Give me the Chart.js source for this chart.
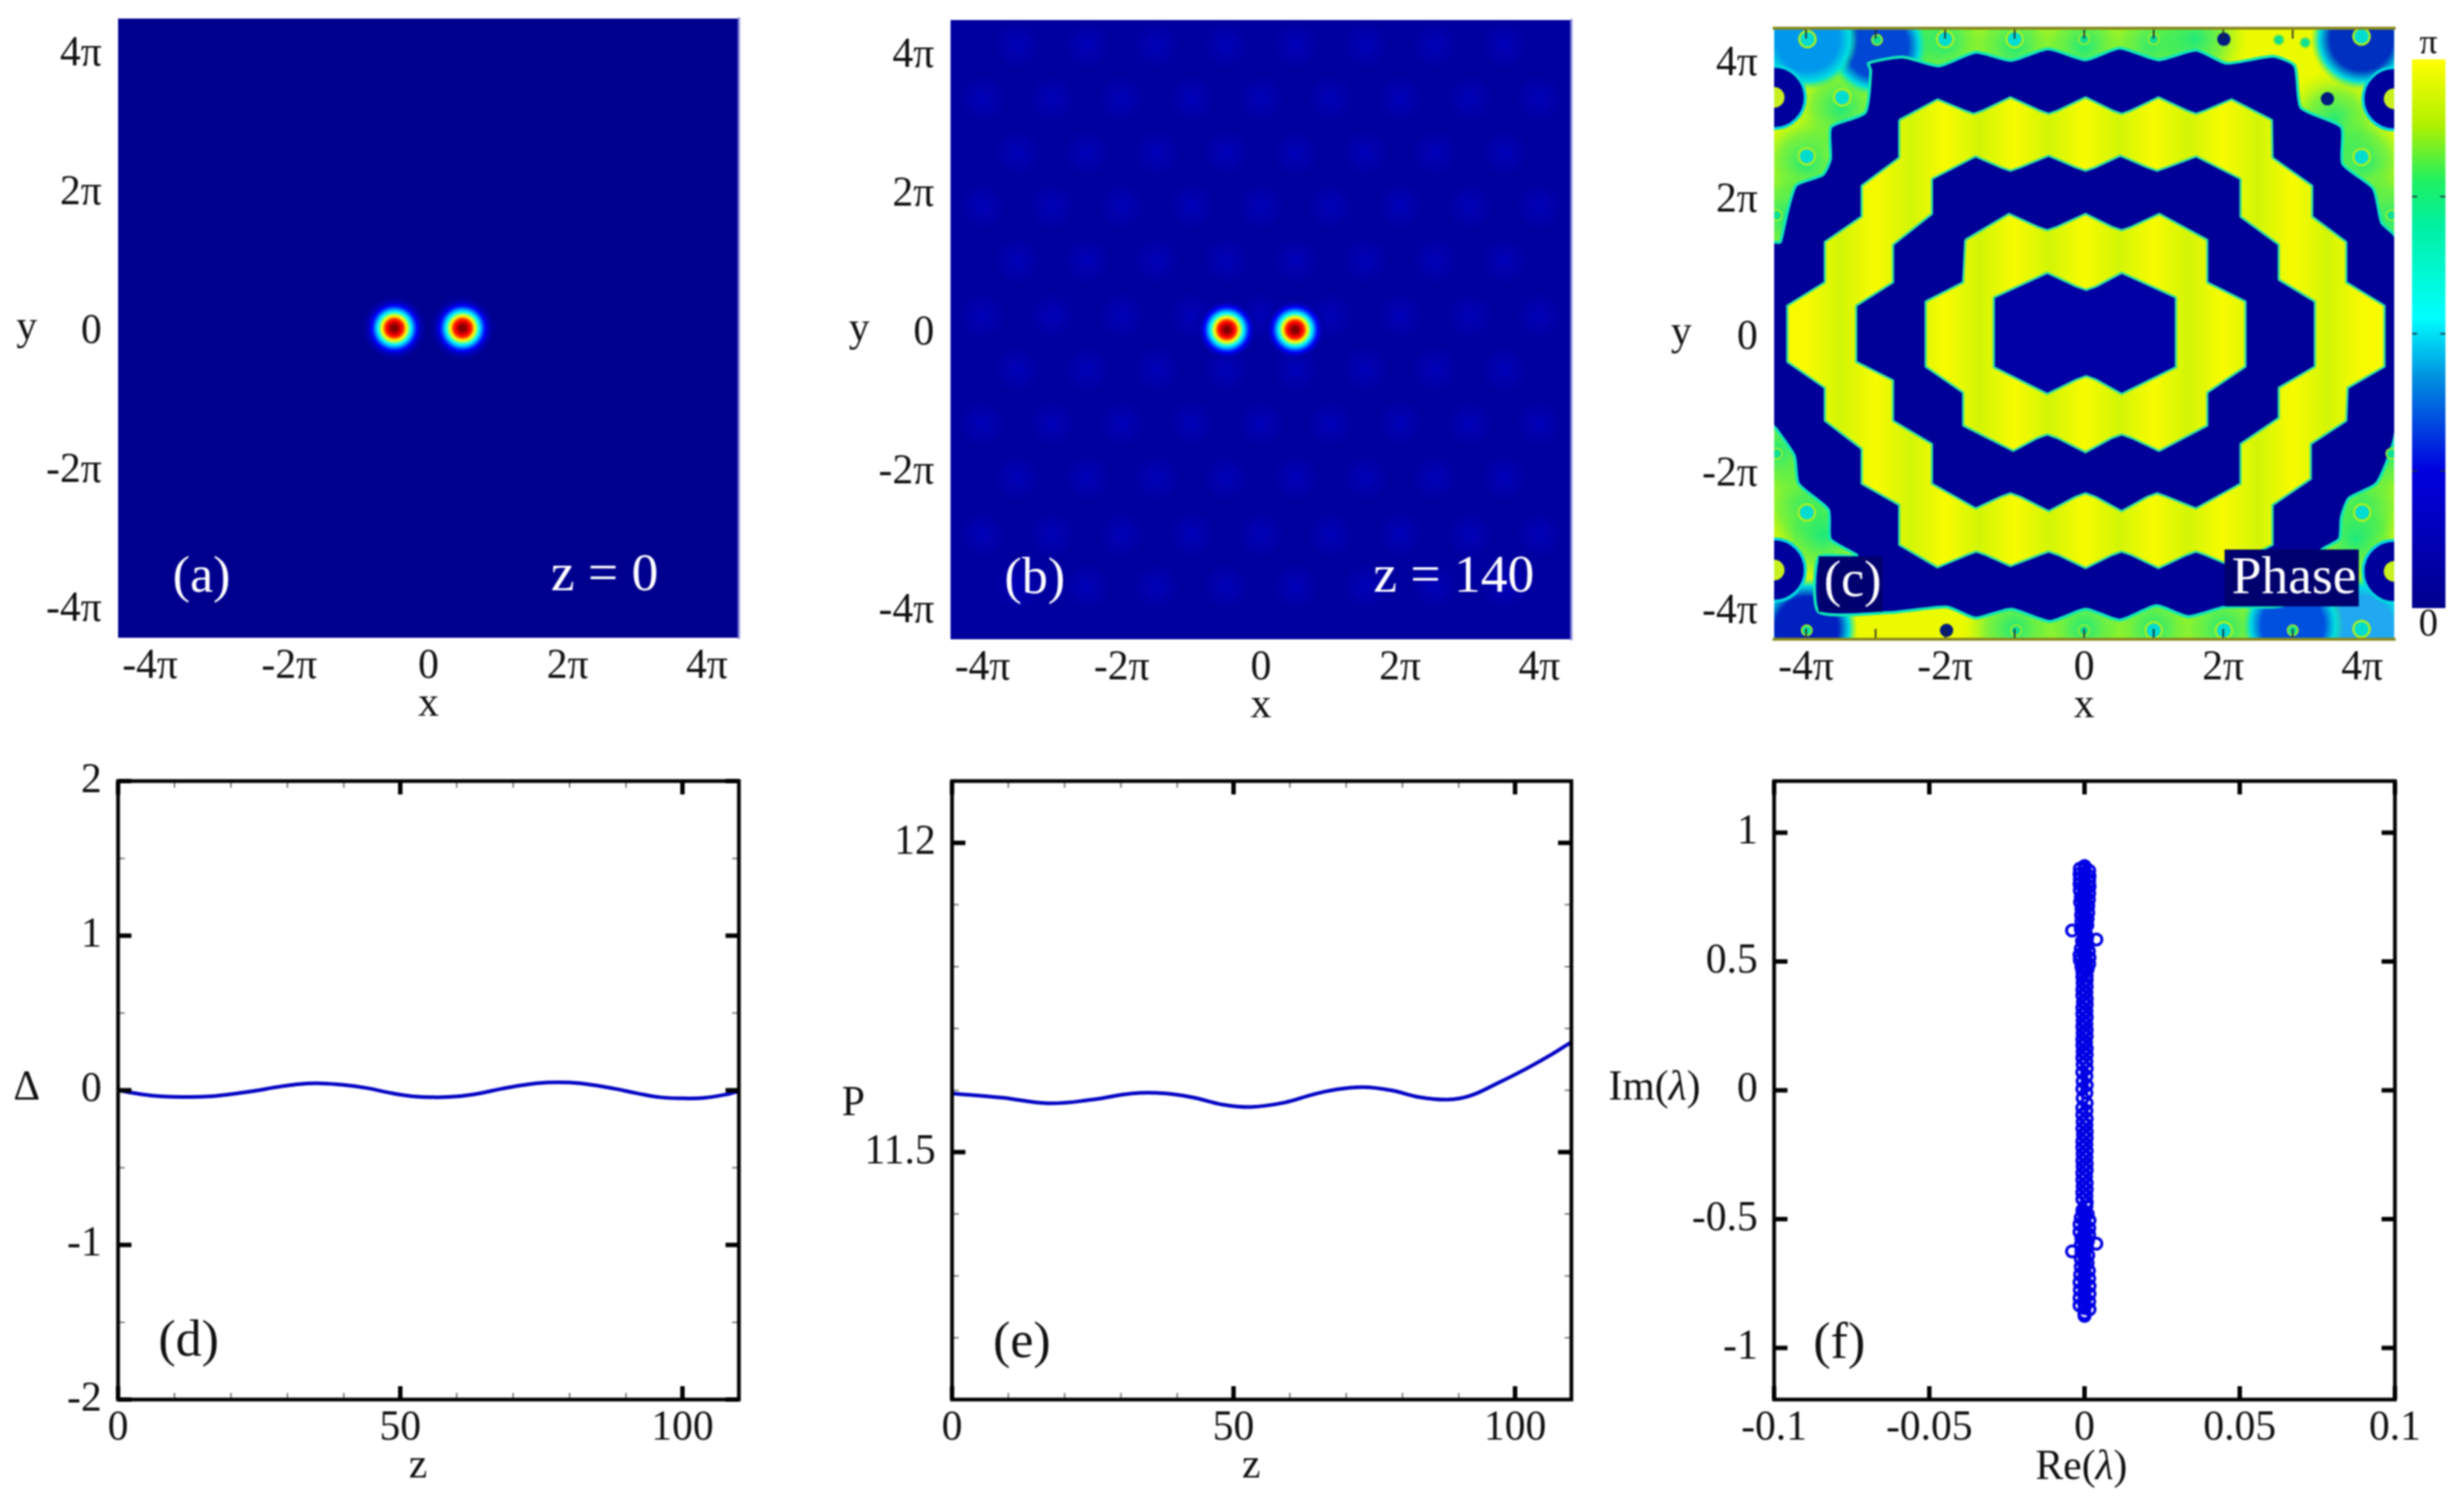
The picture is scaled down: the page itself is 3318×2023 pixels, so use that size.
<!DOCTYPE html>
<html>
<head>
<meta charset="utf-8">
<title>Dipole soliton panels</title>
<script src="https://cdn.jsdelivr.net/npm/chart.js@4"></script>
<style>
  html, body { margin: 0; padding: 0; background: #fff; }
  #page { position: relative; width: 3318px; height: 2023px; overflow: hidden; }
  #page canvas { position: absolute; filter: blur(1.2px); }
</style>
</head>
<body>
<div id="page"></div>
<script>
// axis ticks
var piTicks = [-4, -2, 0, 2, 4];
var zTicks = [0, 50, 100];
var zMinor = [10, 20, 30, 40, 60, 70, 80, 90, 110];
var deltaTicks = [-2, -1, 0, 1, 2];
var deltaMinor = [-1.5, -0.5, 0.5, 1.5];
var powerTicks = [11.5, 12];
var powerMinor = [11.2, 11.3, 11.4, 11.6, 11.7, 11.8, 11.9];
var reTicks = [-0.1, -0.05, 0, 0.05, 0.1];
var imTicks = [-1, -0.5, 0, 0.5, 1];
var phaseMinor = [-4, -3, -2, -1, 0, 1, 2, 3];

// (a), (b) amplitude: two lobes, radial profile (units of pi)
var lobeX = [-0.49, 0.49];
var lobeRadius = [0.492, 0.46, 0.428, 0.396, 0.374, 0.353, 0.337, 0.321, 0.305, 0.289, 0.273, 0.257, 0.241, 0.225, 0.214, 0.203, 0.193, 0.182, 0.171, 0.16, 0.15, 0.139, 0.128, 0.112, 0.096, 0.08, 0.064, 0.043];
var lobeLevel = [0.01, 0.02, 0.035, 0.05, 0.07, 0.09, 0.125, 0.16, 0.2, 0.25, 0.3, 0.34, 0.39, 0.45, 0.5, 0.54, 0.58, 0.625, 0.67, 0.72, 0.76, 0.81, 0.85, 0.88, 0.91, 0.94, 0.97, 1];

// (b) faint lattice spots
var latticeRowsEven = [-2.95, -1.35, 0.2, 1.78, 3.33];
var latticeRowsOdd = [-3.7, -2.13, -0.57, 1, 2.55, 4.1];
var latticeEvenX = [-4, -3, -2, -1, 0, 1, 2, 3, 4];
var latticeOddX = [-3.5, -2.5, -1.5, -0.5, 0.5, 1.5, 2.5, 3.5];

// (c) phase: boundaries of the bands
var outerDarkX = [-4.37, -4.15, -3.76, -3.65, -3.64, -3.15, -3.07, -3.1, -2.61, -2.09, -1.56, -1.05, -0.52, 0.02, 0.51, 1.07, 1.61, 2.05, 2.72, 3.03, 3.12, 3.7, 3.72, 4.16, 4.28, 4.48, 4.48, 4.21, 3.81, 3.7, 3.67, 3.41, 2.9, 2.02, 1.5, 1.04, 0.51, 0.02, -0.49, -1.05, -1.56, -1.97, -2.78, -3.82, -3.82, -3.27, -3.65, -3.68, -4.11, -4.17, -4.43, -4.48, -4.48];
var outerDarkY = [1.33, 2.16, 2.32, 2.55, 3.02, 3.23, 3.84, 3.95, 4.04, 3.91, 4.11, 3.99, 4.16, 4, 4.17, 4, 4.14, 3.95, 4.05, 3.91, 3.3, 3.02, 2.48, 2.12, 1.62, 1.41, -1.43, -2.18, -2.4, -2.68, -3, -3.16, -3.95, -3.99, -4.13, -3.97, -4.18, -4.02, -4.2, -4.02, -4.15, -3.99, -4.07, -4.06, -3.26, -3.24, -3, -2.57, -2.19, -1.78, -1.39, -1.33, 1.33];
var ringOuterX = [-2.66, -2.11, -1.73, -1.59, -1.45, -1.06, -0.65, -0.51, -0.37, 0.02, 0.4, 0.54, 0.68, 1.07, 1.47, 1.61, 1.75, 2.12, 2.7, 2.71, 3.28, 3.28, 3.77, 3.77, 4.32, 4.32, 3.79, 3.77, 3.26, 3.26, 2.71, 2.71, 2.12, 1.75, 1.61, 1.47, 1.07, 0.68, 0.54, 0.4, 0.02, -0.37, -0.51, -0.65, -1.06, -1.41, -1.55, -1.69, -2.11, -2.66, -2.66, -3.2, -3.2, -3.73, -3.73, -4.27, -4.27, -3.73, -3.73, -3.2, -3.2, -2.66];
var ringOuterY = [3.12, 3.42, 3.26, 3.21, 3.26, 3.45, 3.26, 3.21, 3.26, 3.45, 3.26, 3.21, 3.26, 3.45, 3.26, 3.21, 3.26, 3.42, 3.12, 2.57, 2.16, 1.71, 1.34, 0.75, 0.41, -0.48, -0.79, -1.27, -1.61, -2.12, -2.5, -3.08, -3.39, -3.23, -3.18, -3.23, -3.42, -3.23, -3.18, -3.23, -3.42, -3.23, -3.18, -3.23, -3.39, -3.23, -3.18, -3.23, -3.41, -3.08, -2.5, -2.19, -1.68, -1.27, -0.79, -0.41, 0.41, 0.75, 1.34, 1.71, 2.16, 2.57];
var midDarkX = [-2.19, -1.56, -1.2, -1.06, -0.92, -0.51, -0.12, 0.02, 0.16, 0.52, 0.91, 1.05, 1.19, 1.61, 2.25, 2.25, 2.8, 2.8, 3.32, 3.32, 2.8, 2.8, 2.25, 2.25, 1.61, 1.19, 1.05, 0.91, 0.54, 0.16, 0.02, -0.12, -0.51, -0.92, -1.06, -1.2, -1.56, -2.19, -2.19, -2.75, -2.75, -3.28, -3.28, -2.75, -2.75, -2.19];
var midDarkY = [2.26, 2.59, 2.43, 2.38, 2.43, 2.6, 2.43, 2.38, 2.43, 2.6, 2.43, 2.38, 2.43, 2.59, 2.26, 1.71, 1.3, 0.79, 0.47, -0.48, -0.79, -1.23, -1.61, -2.19, -2.55, -2.38, -2.33, -2.38, -2.59, -2.38, -2.33, -2.38, -2.59, -2.38, -2.33, -2.38, -2.55, -2.19, -1.61, -1.27, -0.68, -0.41, 0.41, 0.75, 1.3, 1.75];
var ringInnerX = [-1.71, -1.08, -0.67, -0.53, -0.39, 0.02, 0.4, 0.54, 0.68, 1.08, 1.77, 1.77, 2.32, 2.32, 1.77, 1.77, 1.08, 0.68, 0.54, 0.4, 0.02, -0.39, -0.53, -0.67, -1.02, -1.74, -1.74, -2.28, -2.28, -1.74];
var ringInnerY = [1.37, 1.75, 1.56, 1.51, 1.56, 1.75, 1.56, 1.51, 1.56, 1.75, 1.37, 0.75, 0.47, -0.48, -0.86, -1.34, -1.71, -1.52, -1.47, -1.52, -1.73, -1.52, -1.47, -1.52, -1.71, -1.34, -0.86, -0.48, 0.47, 0.75];
var coreX = [-1.3, -0.53, -0.11, 0.03, 0.17, 0.54, 1.32, 1.32, 0.54, 0.17, 0.03, -0.11, -0.53, -1.3];
var coreY = [0.53, 0.89, 0.69, 0.64, 0.69, 0.89, 0.53, -0.49, -0.88, -0.67, -0.62, -0.67, -0.88, -0.49];

// (c) phase: patches and small vortices in the outer region
var greenPatchX = [-2.6, -2, -1, 0, 1, 1.6, -3.5, -4, -4.3, -4, -3.75, -4.4, 3.6, 4, 4.4, 4, 4.4, 3.9, 1, 2, 0, -1, 3, 4];
var greenPatchY = [4.3, 4.25, 4.2, 4.2, 4.2, 4.3, 3.3, 2.5, 1.7, -2.5, -2.95, -1.7, 3.1, 2.5, 1.7, -2.5, -1.7, -3, -4.3, -4.3, -4.3, -4.3, -4.2, -4.1];
var haloX = [-3.98, -2.98, 3.99, -3.99, 3, 3.99];
var haloY = [4.3, 4.2, 4.3, -4.3, -4.25, -4.3];
var haloColor = ['#0098ec', '#0048d4', '#0030c0', '#0020c0', '#0050e0', '#20a8f0'];
var cornerDarkX = [-4.46, 4.46, -4.46, 4.46];
var cornerDarkY = [3.45, 3.43, -3.45, -3.47];
var cyanDotX = [-3.48, -3.99, 3.99, -3.99, 4, 1, 2.01, -2, -1, 3.99, -3.98, 3.99];
var cyanDotY = [3.45, 2.59, 2.58, -2.61, -2.61, -4.33, -4.33, 4.3, 4.3, 4.34, 4.3, -4.31];
var greenDotX = [0, 1, 2.8, 3.18, -2.98, -0.98, 0, 3, -3.99, -4.42, 4.42, -4.42, 4.42];
var greenDotY = [4.3, 4.3, 4.29, 4.25, 4.29, -4.33, -4.33, -4.33, -4.33, 1.73, 1.73, -1.75, -1.75];
var darkDotX = [2.01, 3.5, -1.98];
var darkDotY = [4.3, 3.43, -4.33];

// (d) separation vs z
var deltaZ = [0, 4, 8, 12, 16, 20, 24, 28, 32, 36, 40, 44, 48, 52, 56, 60, 64, 68, 72, 76, 80, 84, 88, 92, 96, 100, 104, 108, 110];
var deltaValues = [0, -0.025, -0.04, -0.043, -0.04, -0.025, -0.005, 0.02, 0.04, 0.045, 0.035, 0.015, -0.015, -0.038, -0.045, -0.04, -0.02, 0.01, 0.035, 0.05, 0.05, 0.035, 0.01, -0.02, -0.045, -0.052, -0.048, -0.025, -0.005];

// (e) power vs z
var powerZ = [0, 9, 17, 25, 32, 38, 43, 48, 53, 59, 64, 68, 73, 78, 83, 88, 92, 97, 102, 106.5, 110];
var powerValues = [11.595, 11.588, 11.579, 11.585, 11.595, 11.595, 11.588, 11.577, 11.573, 11.58, 11.593, 11.601, 11.605, 11.6, 11.589, 11.585, 11.591, 11.612, 11.635, 11.658, 11.678];

// (f) stability spectrum, upper end, middle, lower end and the core of the two dense ends
var topRe = [0, -0.0015, 0.0015, -0.0016, 0.0016, -0.0015, 0.0015, -0.0016, 0.0016, -0.0015, 0.0015, -0.0012, 0.0014, -0.0014, 0.0012, -0.001, 0.0012, -0.0011, 0.001, -0.001, 0.0009, -0.0012, 0.0004, -0.004, 0.0009, 0.0038, -0.0008, 0.001, -0.0012, 0.0014, -0.0016, 0.0016, -0.0015, 0.0015, -0.001, 0.001, -0.0007, 0.0007];
var topIm = [0.87, 0.86, 0.852, 0.84, 0.83, 0.82, 0.81, 0.8, 0.79, 0.775, 0.765, 0.75, 0.74, 0.73, 0.715, 0.705, 0.69, 0.68, 0.665, 0.655, 0.64, 0.625, 0.61, 0.62, 0.595, 0.585, 0.58, 0.565, 0.55, 0.54, 0.525, 0.515, 0.505, 0.49, 0.48, 0.47, 0.46, 0.445];
var midRe = [-0.0007, 0.0007, -0.0006, 0.0007, -0.0007, 0.0006, -0.0007, 0.0007, -0.0005, 0.0007, -0.0007, 0.0006, -0.0007, 0.0007, -0.0006, 0.0006, -0.0007, 0.0007, -0.0006, 0.0007, -0.0007, 0.0005, -0.0007, 0.0007, -0.0006, 0.0007, -0.0007, 0.0006, -0.0006, 0.0007, -0.0007, 0.0006, -0.0006, 0.0007, -0.0007, 0.0006, -0.0006, 0.0007, -0.0007, 0.0006, -0.0007, 0.0007, -0.0006, 0.0006, -0.0007, 0.0007, -0.0005, 0.0007, -0.0007, 0.0006, -0.0007, 0.0007, -0.0006, 0.0006, -0.0007, 0.0007, -0.0006, 0.0007, -0.0007, 0.0005, -0.0007, 0.0007, -0.0006, 0.0007, -0.0007, 0.0006, -0.0007, 0.0007];
var midIm = [0.44, 0.428, 0.416, 0.403, 0.391, 0.38, 0.368, 0.355, 0.343, 0.332, 0.32, 0.306, 0.295, 0.283, 0.27, 0.258, 0.247, 0.235, 0.222, 0.21, 0.198, 0.186, 0.175, 0.162, 0.15, 0.138, 0.126, 0.112, 0.1, 0.085, 0.07, 0.055, 0.035, 0.02, 0.005, -0.01, -0.03, -0.05, -0.068, -0.08, -0.095, -0.11, -0.122, -0.135, -0.148, -0.16, -0.172, -0.185, -0.197, -0.21, -0.222, -0.235, -0.247, -0.26, -0.272, -0.285, -0.297, -0.31, -0.322, -0.335, -0.347, -0.36, -0.372, -0.385, -0.397, -0.41, -0.422, -0.435];
var lowRe = [0.0006, -0.0007, 0.001, -0.0012, 0.0016, -0.0016, 0.0015, -0.0016, 0.0015, -0.001, 0.0011, -0.0012, 0.0008, 0.0038, -0.001, -0.004, 0.0012, -0.0012, 0.001, -0.0012, 0.0014, -0.0014, 0.0015, -0.0016, 0.0016, -0.0015, 0.0016, -0.0016, 0.0015, -0.0016, 0.0016, 0];
var lowIm = [-0.45, -0.465, -0.48, -0.495, -0.505, -0.52, -0.535, -0.55, -0.56, -0.575, -0.585, -0.6, -0.61, -0.595, -0.625, -0.625, -0.64, -0.655, -0.67, -0.685, -0.7, -0.715, -0.73, -0.745, -0.76, -0.775, -0.79, -0.805, -0.82, -0.835, -0.85, -0.875];
var denseIm = [0.86, 0.845, 0.83, 0.815, 0.8, 0.785, 0.77, 0.755, 0.74, 0.725, 0.71, 0.695, 0.68, 0.665, 0.65, 0.635, 0.62, 0.605, 0.59, 0.575, 0.56, 0.545, 0.53, 0.515, 0.5, 0.485, 0.47, -0.47, -0.485, -0.5, -0.515, -0.53, -0.545, -0.56, -0.575, -0.59, -0.605, -0.62, -0.635, -0.65, -0.665, -0.68, -0.695, -0.71, -0.725, -0.74, -0.755, -0.77, -0.785, -0.8, -0.815, -0.83, -0.845, -0.865];

var SERIF = '"Liberation Serif", "Times New Roman", serif';
var DARK = '#000098';

function zip(xs, ys) {
  return xs.map(function (x, i) { return { x: x, y: ys[i] }; });
}

function closed(xs, ys) {
  var pts = zip(xs, ys);
  pts.push(pts[0]);
  return pts;
}

// matlab style jet map, used for the amplitude panels
function jet(v) {
  function ramp(c) {
    return Math.round(255 * Math.max(0, Math.min(1, 1.5 - Math.abs(4 * v - c))));
  }
  return 'rgb(' + ramp(3) + ',' + ramp(2) + ',' + ramp(1) + ')';
}

function softSpot(radius, stops) {
  var c = document.createElement('canvas');
  c.width = c.height = radius * 2;
  var g = c.getContext('2d');
  var grad = g.createRadialGradient(radius, radius, 0, radius, radius, radius);
  stops.forEach(function (s) { grad.addColorStop(s[0], s[1]); });
  g.fillStyle = grad;
  g.fillRect(0, 0, radius * 2, radius * 2);
  return c;
}

// vertical facets seen in the yellow rings, yellow on the integer columns
function ringFill(ctx) {
  var area = ctx.chart.chartArea;
  if (!area) return '#e8f800';
  var sx = ctx.chart.scales.x;
  var g = ctx.chart.ctx.createLinearGradient(sx.getPixelForValue(-4), 0, sx.getPixelForValue(4), 0);
  for (var i = 0; i <= 16; i++) {
    g.addColorStop(i / 16, i % 2 ? '#d2f606' : '#f8fb00');
  }
  return g;
}

function polygon(data, fillColor, edgeColor, edgeWidth, tension) {
  return {
    data: data, showLine: true, fill: 'shape', tension: tension || 0, pointRadius: 0,
    backgroundColor: fillColor, borderColor: edgeColor, borderWidth: edgeWidth,
    borderJoinStyle: 'round'
  };
}

function dots(data, color, radius, ringColor, ringWidth) {
  return {
    data: data, showLine: false, pointRadius: radius, pointStyle: 'circle',
    pointBackgroundColor: color, pointBorderColor: ringColor || color, pointBorderWidth: ringWidth || 0
  };
}

function lobeDataset(minLevel) {
  var data = [];
  lobeX.forEach(function (cx) {
    lobeRadius.forEach(function (r, i) {
      if (lobeLevel[i] >= minLevel) data.push({ x: cx, y: 0, r: r, v: lobeLevel[i] });
    });
  });
  return {
    data: data, showLine: false, pointStyle: 'circle', pointBorderWidth: 0,
    pointRadius: function (ctx) {
      if (!ctx.raw) return 0;
      var s = ctx.chart.scales.x;
      return s.getPixelForValue(ctx.raw.r) - s.getPixelForValue(0);
    },
    pointBackgroundColor: function (ctx) { return ctx.raw ? jet(ctx.raw.v) : DARK; }
  };
}

function latticePoints() {
  var pts = [];
  latticeRowsEven.forEach(function (y) { latticeEvenX.forEach(function (x) { pts.push({ x: x, y: y }); }); });
  latticeRowsOdd.forEach(function (y) { latticeOddX.forEach(function (x) { pts.push({ x: x, y: y }); }); });
  return pts;
}

// text inside or around the axes; x,y in data units, dx in pixels from the left edge of the plot
function drawNote(chart, n) {
  var ctx = chart.ctx;
  var px = n.dx !== undefined ? chart.chartArea.left + n.dx : chart.scales.x.getPixelForValue(n.x);
  var py = chart.scales.y.getPixelForValue(n.y);
  var parts = n.text.split(/(λ)/).filter(function (p) { return p; });
  var fonts = parts.map(function (p) {
    return (p === 'λ' ? 'italic ' : '') + (n.size || 56) + 'px ' + SERIF;
  });
  var total = 0;
  ctx.save();
  parts.forEach(function (p, i) { ctx.font = fonts[i]; total += ctx.measureText(p).width; });
  ctx.textAlign = 'left';
  ctx.textBaseline = 'middle';
  ctx.fillStyle = n.color || '#111';
  var cur = px - total / 2;
  parts.forEach(function (p, i) {
    ctx.font = fonts[i];
    ctx.fillText(p, cur, py);
    cur += ctx.measureText(p).width;
  });
  ctx.restore();
}

function drawTicks(ctx, chart, f) {
  var a = chart.chartArea, sx = chart.scales.x, sy = chart.scales.y;
  function mark(vals, len, width, color) {
    if (!vals) return;
    ctx.strokeStyle = color;
    ctx.lineWidth = width;
    ctx.beginPath();
    vals.x.forEach(function (v) {
      var p = sx.getPixelForValue(v);
      ctx.moveTo(p, a.bottom); ctx.lineTo(p, a.bottom - len);
      ctx.moveTo(p, a.top); ctx.lineTo(p, a.top + len);
    });
    vals.y.forEach(function (v) {
      var p = sy.getPixelForValue(v);
      ctx.moveTo(a.left, p); ctx.lineTo(a.left + len, p);
      ctx.moveTo(a.right, p); ctx.lineTo(a.right - len, p);
    });
    ctx.stroke();
  }
  mark(f.major, f.majorLen || 18, f.majorWidth || 6, f.majorColor || '#000');
  mark(f.minor, f.minorLen || 9, f.minorWidth || 2, f.minorColor || '#777');
}

Chart.register({
  id: 'panelDecor',
  beforeDatasetsDraw: function (chart, args, opts) {
    if (!opts.background) return;
    var a = chart.chartArea;
    chart.ctx.fillStyle = opts.background;
    chart.ctx.fillRect(a.left, a.top, a.right - a.left, a.bottom - a.top);
  },
  afterDatasetsDraw: function (chart, args, opts) {
    var ctx = chart.ctx, a = chart.chartArea;
    (opts.boxes || []).forEach(function (b) {
      var x0 = chart.scales.x.getPixelForValue(b.x0), x1 = chart.scales.x.getPixelForValue(b.x1);
      var y0 = chart.scales.y.getPixelForValue(b.y0), y1 = chart.scales.y.getPixelForValue(b.y1);
      ctx.fillStyle = b.color;
      ctx.fillRect(x0, y0, x1 - x0, y1 - y0);
    });
    if (opts.frame) {
      drawTicks(ctx, chart, opts.frame);
      ctx.strokeStyle = opts.frame.color;
      ctx.lineWidth = opts.frame.width;
      var s = opts.frame.sides || 'trbl';
      ctx.beginPath();
      if (s.indexOf('t') >= 0) { ctx.moveTo(a.left, a.top); ctx.lineTo(a.right, a.top); }
      if (s.indexOf('r') >= 0) { ctx.moveTo(a.right, a.top); ctx.lineTo(a.right, a.bottom); }
      if (s.indexOf('b') >= 0) { ctx.moveTo(a.left, a.bottom); ctx.lineTo(a.right, a.bottom); }
      if (s.indexOf('l') >= 0) { ctx.moveTo(a.left, a.top); ctx.lineTo(a.left, a.bottom); }
      ctx.lineCap = 'square';
      if (opts.frame.width > 0) ctx.stroke();
    }
    (opts.notes || []).forEach(function (n) { drawNote(chart, n); });
  }
});

function axis(min, max, ticks, label, padding, afterFit, nudge) {
  return {
    type: 'linear', min: min, max: max,
    grid: { display: false, drawTicks: false }, border: { display: false },
    // the reference sets its y labels slightly under the tick position
    afterBuildTicks: function (s) { s.ticks = ticks.map(function (v) { return { value: v - (nudge || 0) }; }); },
    afterFit: afterFit,
    ticks: {
      autoSkip: false, maxRotation: 0, padding: padding,
      color: '#111', font: { family: SERIF, size: 56 },
      callback: function (v, i) { return label(ticks[i]); }
    }
  };
}

function piLabel(v) { return v === 0 ? '0' : v + 'π'; }
function numLabel(v) { return String(v); }

// area is the plot rectangle on the page; the canvas may stick out past the page top
function addPanel(area, o) {
  var L = 250, T = 60, R = 70, B = 124;
  if (area.x - L < 0) L = area.x;
  var c = document.createElement('canvas');
  c.width = L + area.w + R;
  c.height = T + area.h + B;
  c.style.left = (area.x - L) + 'px';
  c.style.top = (area.y - T) + 'px';
  document.getElementById('page').appendChild(c);
  var xAxis = axis(o.x[0], o.x[1], o.x[2], o.x[3], 6, function (s) { s.height = B; });
  var yAxis = axis(o.y[0], o.y[1], o.y[2], o.y[3], 22, function (s) { s.width = L; }, o.y[4]);
  if (o.xTitle) {
    xAxis.title = { display: true, text: o.xTitle, color: '#111', padding: 0, font: { family: SERIF, size: 56 } };
  }
  return new Chart(c.getContext('2d'), {
    type: 'scatter',
    data: { datasets: o.datasets },
    options: {
      responsive: false, animation: false, devicePixelRatio: 1, events: [],
      layout: { padding: { top: T, right: R } },
      scales: { x: xAxis, y: yAxis },
      plugins: { legend: { display: false }, tooltip: { enabled: false }, panelDecor: o.decor }
    }
  });
}

var RANGE = 4.46;
var piX = [-RANGE, RANGE, piTicks, piLabel];
var piY = [-RANGE, RANGE, piTicks, piLabel, 0.06];
var softEdge = { color: '#8c8cdc', width: 3, sides: 'r' };

addPanel({ x: 159, y: 25, w: 836, h: 834 }, {
  x: piX, y: piY, xTitle: 'x',
  datasets: [lobeDataset(0.012)],
  decor: {
    background: '#00008f', frame: softEdge,
    notes: [
      { text: 'y', dx: -123, y: 0 },
      { text: '(a)', x: -3.26, y: -3.6, color: '#fff', size: 70 },
      { text: 'z = 0', x: 2.53, y: -3.57, color: '#fff', size: 72 }
    ]
  }
});

var latticeSpot = softSpot(36, [[0, 'rgba(0,0,225,0.42)'], [0.55, 'rgba(0,0,215,0.22)'], [1, 'rgba(0,0,200,0)']]);

addPanel({ x: 1280, y: 27, w: 836, h: 834 }, {
  x: piX, y: piY, xTitle: 'x',
  datasets: [
    lobeDataset(0.03),
    { data: latticePoints(), showLine: false, pointStyle: latticeSpot, pointRadius: 36 }
  ],
  decor: {
    background: '#00009e', frame: softEdge,
    notes: [
      { text: 'y', dx: -123, y: 0 },
      { text: '(b)', x: -3.25, y: -3.6, color: '#fff', size: 70 },
      { text: 'z = 140', x: 2.77, y: -3.57, color: '#fff', size: 72 }
    ]
  }
});

var greenSpot = softSpot(70, [[0, 'rgba(20,232,130,0.95)'], [0.55, 'rgba(60,236,90,0.6)'], [1, 'rgba(160,245,30,0)']]);
var phaseHalos = haloX.map(function (x, i) {
  return {
    data: [{ x: x, y: haloY[i] }], showLine: false, pointRadius: 68,
    pointStyle: softSpot(68, [[0, haloColor[i]], [0.62, haloColor[i]], [0.84, '#00e0e0'], [1, 'rgba(40,235,120,0)']])
  };
});

addPanel({ x: 2389, y: 27, w: 836, h: 834 }, {
  x: piX, y: piY, xTitle: 'x',
  // first dataset is painted last
  datasets: [
    dots(zip(darkDotX, darkDotY), '#001a80', 9),
    dots(zip(greenDotX, greenDotY), '#10e090', 7, '#a8f020', 2),
    dots(zip(cyanDotX, cyanDotY), '#00dcd0', 11, '#a8f020', 3),
    polygon(closed(coreX, coreY), '#0000a4', '#30e0a0', 3),
    polygon(closed(ringInnerX, ringInnerY), ringFill, '#30e0a0', 3),
    polygon(closed(midDarkX, midDarkY), DARK, '#30e0a0', 3),
    polygon(closed(ringOuterX, ringOuterY), ringFill, '#30e0a0', 3),
    polygon(closed(outerDarkX, outerDarkY), DARK, '#10e8b8', 4, 0.2),
    dots(zip(cornerDarkX, cornerDarkY), '#c8f020', 14),
    dots(zip(cornerDarkX, cornerDarkY), '#00009c', 42, '#00d8e0', 4)
  ].concat(phaseHalos).concat([
    { data: zip(greenPatchX, greenPatchY), showLine: false, pointStyle: greenSpot, pointRadius: 70 }
  ]),
  decor: {
    background: '#ecfa00',
    frame: { color: '#8a8a20', width: 4, sides: 'tb', major: { x: phaseMinor, y: [] }, majorLen: 14, majorWidth: 2, majorColor: '#223' },
    boxes: [
      { x0: -3.82, x1: -2.9, y0: -3.25, y1: -4.06, color: '#00006e' },
      { x0: 2.02, x1: 3.95, y0: -3.15, y1: -3.98, color: '#00006e' }
    ],
    notes: [
      { text: 'y', dx: -125, y: 0 },
      { text: '(c)', x: -3.33, y: -3.63, color: '#fff', size: 70 },
      { text: 'Phase', x: 3.02, y: -3.58, color: '#fff', size: 72 }
    ]
  }
});

// colour bar, one floating bar filled with the phase map
var phaseBarCanvas = document.createElement('canvas');
phaseBarCanvas.width = 88;
phaseBarCanvas.height = 860;
phaseBarCanvas.style.left = '3230px';
phaseBarCanvas.style.top = '20px';
document.getElementById('page').appendChild(phaseBarCanvas);
new Chart(phaseBarCanvas.getContext('2d'), {
  type: 'bar',
  data: {
    labels: ['Phase'],
    datasets: [{
      data: [[0, Math.PI]], barPercentage: 1, categoryPercentage: 1,
      backgroundColor: function (ctx) {
        var a = ctx.chart.chartArea;
        if (!a) return DARK;
        var g = ctx.chart.ctx.createLinearGradient(0, a.bottom, 0, a.top);
        g.addColorStop(0, '#00008c');
        g.addColorStop(0.25, '#0000e0');
        g.addColorStop(0.42, '#0090e0');
        g.addColorStop(0.53, '#00ffff');
        g.addColorStop(0.7, '#00f0a0');
        g.addColorStop(0.78, '#20f060');
        g.addColorStop(0.88, '#b0f000');
        g.addColorStop(1, '#ffff00');
        return g;
      }
    }]
  },
  options: {
    responsive: false, animation: false, devicePixelRatio: 1, events: [],
    layout: { padding: { left: 18, right: 25, top: 60, bottom: 61 } },
    scales: {
      x: { type: 'category', display: false },
      y: { type: 'linear', min: 0, max: Math.PI, display: false }
    },
    plugins: {
      legend: { display: false }, tooltip: { enabled: false },
      panelDecor: {
        frame: { color: '#a8a8e0', width: 0, sides: 'r', major: { x: [], y: [0.7854, 1.5708, 2.3562] }, majorLen: 7, majorWidth: 2, majorColor: '#234' },
        notes: [
          { text: 'π', dx: 22, y: 3.231, size: 48 },
          { text: '0', dx: 22, y: -0.098, size: 52 }
        ]
      }
    }
  }
});

function curve(xs, ys) {
  return { data: zip(xs, ys), showLine: true, tension: 0.4, pointRadius: 0, borderColor: '#0404c4', borderWidth: 5 };
}

addPanel({ x: 159, y: 1052, w: 836, h: 833 }, {
  x: [0, 110, zTicks, numLabel], y: [-2, 2, deltaTicks, numLabel], xTitle: 'z  ',
  datasets: [curve(deltaZ, deltaValues)],
  decor: {
    frame: { color: '#000', width: 5, major: { x: zTicks, y: deltaTicks }, minor: { x: zMinor, y: deltaMinor } },
    notes: [
      { text: 'Δ', dx: -123, y: 0.01 },
      { text: '(d)', x: 12.5, y: -1.63, size: 70 }
    ]
  }
});

addPanel({ x: 1282, y: 1052, w: 834, h: 833 }, {
  x: [0, 110, zTicks, numLabel], y: [11.1, 12.1, powerTicks, numLabel], xTitle: 'z  ',
  datasets: [curve(powerZ, powerValues)],
  decor: {
    frame: { color: '#000', width: 5, major: { x: zTicks, y: powerTicks }, minor: { x: zMinor, y: powerMinor } },
    notes: [
      { text: 'P', dx: -133, y: 11.577 },
      { text: '(e)', x: 12.4, y: 11.19, size: 70 }
    ]
  }
});

// the dense core sits on the imaginary axis, Re = 0
var spectrum = zip(topRe, topIm).concat(zip(midRe, midIm), zip(lowRe, lowIm), denseIm.map(function (v) { return { x: 0, y: v }; }));

addPanel({ x: 2389, y: 1052, w: 836, h: 833 }, {
  x: [-0.1, 0.1, reTicks, numLabel], y: [-1.2, 1.2, imTicks, numLabel],
  datasets: [{
    data: spectrum, showLine: false, pointStyle: 'circle', pointRadius: 7.5,
    pointBackgroundColor: 'rgba(0,0,0,0)', pointBorderColor: '#0000e4', pointBorderWidth: 4
  }],
  decor: {
    frame: { color: '#000', width: 5, major: { x: reTicks, y: imTicks } },
    notes: [
      { text: 'Im(λ)', dx: -161, y: 0.005 },
      { text: 'Re(λ)', x: -0.001, y: -1.465 },
      { text: '(f)', x: -0.079, y: -0.985, size: 70 }
    ]
  }
});
</script>
</body>
</html>
